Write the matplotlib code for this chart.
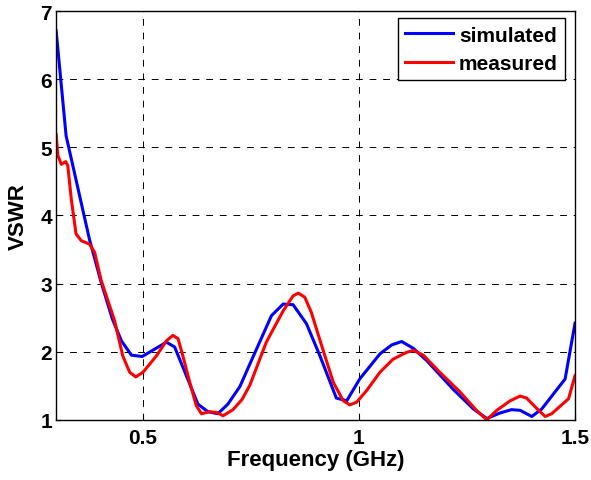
import matplotlib.pyplot as plt

plt.rcParams["font.family"] = ["Liberation Sans", "DejaVu Sans"]
plt.rcParams["font.weight"] = "bold"

sim_f = [0.300, 0.323, 0.377, 0.404, 0.430, 0.451, 0.474, 0.499, 0.555, 0.574,
         0.601, 0.628, 0.651, 0.674, 0.697, 0.725, 0.748, 0.798, 0.825, 0.848,
         0.879, 0.910, 0.948, 0.972, 1.002, 1.049, 1.076, 1.099, 1.126, 1.157,
         1.218, 1.265, 1.296, 1.326, 1.353, 1.373, 1.400, 1.423, 1.450, 1.477, 1.500]
sim_vswr = [6.71, 5.17, 3.65, 3.02, 2.48, 2.16, 1.95, 1.93, 2.14, 2.07,
            1.65, 1.23, 1.12, 1.09, 1.23, 1.49, 1.82, 2.53, 2.70, 2.69,
            2.41, 1.94, 1.32, 1.28, 1.60, 1.97, 2.10, 2.15, 2.05, 1.87,
            1.45, 1.16, 1.02, 1.10, 1.15, 1.14, 1.05, 1.16, 1.38, 1.60, 2.42]

meas_f = [0.300, 0.304, 0.312, 0.322, 0.327, 0.335, 0.346, 0.358, 0.377, 0.389,
          0.404, 0.435, 0.454, 0.470, 0.484, 0.501, 0.532, 0.555, 0.570, 0.582,
          0.593, 0.609, 0.624, 0.636, 0.655, 0.671, 0.686, 0.709, 0.730, 0.748,
          0.786, 0.825, 0.848, 0.860, 0.875, 0.890, 0.914, 0.941, 0.964, 0.979,
          0.995, 1.018, 1.049, 1.079, 1.110, 1.126, 1.149, 1.187, 1.234, 1.272,
          1.296, 1.319, 1.350, 1.373, 1.388, 1.411, 1.431, 1.446, 1.469, 1.485, 1.500]
meas_vswr = [5.19, 4.88, 4.75, 4.79, 4.73, 4.24, 3.73, 3.63, 3.58, 3.46,
             3.05, 2.46, 1.94, 1.70, 1.63, 1.70, 1.94, 2.16, 2.24, 2.19,
             1.94, 1.55, 1.21, 1.09, 1.12, 1.11, 1.06, 1.15, 1.30, 1.51,
             2.14, 2.60, 2.82, 2.86, 2.80, 2.58, 2.09, 1.55, 1.28, 1.22,
             1.26, 1.43, 1.70, 1.89, 1.99, 2.02, 1.95, 1.70, 1.41, 1.14,
             1.00, 1.14, 1.28, 1.35, 1.32, 1.17, 1.05, 1.09, 1.22, 1.31, 1.65]

fig = plt.figure(figsize=(5.91, 4.81), dpi=100)
ax = fig.add_axes([0.095, 0.125, 0.878, 0.850])

ax.plot(sim_f, sim_vswr, color="blue", lw=2.2, label="simulated")
ax.plot(meas_f, meas_vswr, color="red", lw=2.2, label="measured")

ax.set_xlim(0.3, 1.5)
ax.set_ylim(1, 7)
ax.set_xticks([0.5, 1, 1.5])
ax.set_xticklabels(["0.5", "1", "1.5"])
ax.set_yticks(range(1, 8))
ax.grid(True, color="black", linestyle=(0, (7, 7)), linewidth=0.7)
ax.tick_params(labelsize=15, direction="in", length=4, width=0.8)
ax.tick_params(axis="x", pad=6)
ax.tick_params(axis="y", pad=3)
for s in ax.spines.values():
    s.set_linewidth(1.0)

ax.set_xlabel("Frequency (GHz)", fontsize=16, fontweight="bold", labelpad=1)
ax.set_ylabel("VSWR", fontsize=16, fontweight="bold", labelpad=8)

leg = ax.legend(loc="upper right", bbox_to_anchor=(0.981, 0.982), borderaxespad=0,
                fontsize=15, fancybox=False, framealpha=1, edgecolor="black",
                handlelength=2.3, handletextpad=0.3, labelspacing=0.45, borderpad=0.35)
leg.get_frame().set_linewidth(1.0)

fig.savefig("out.png", dpi=100)
